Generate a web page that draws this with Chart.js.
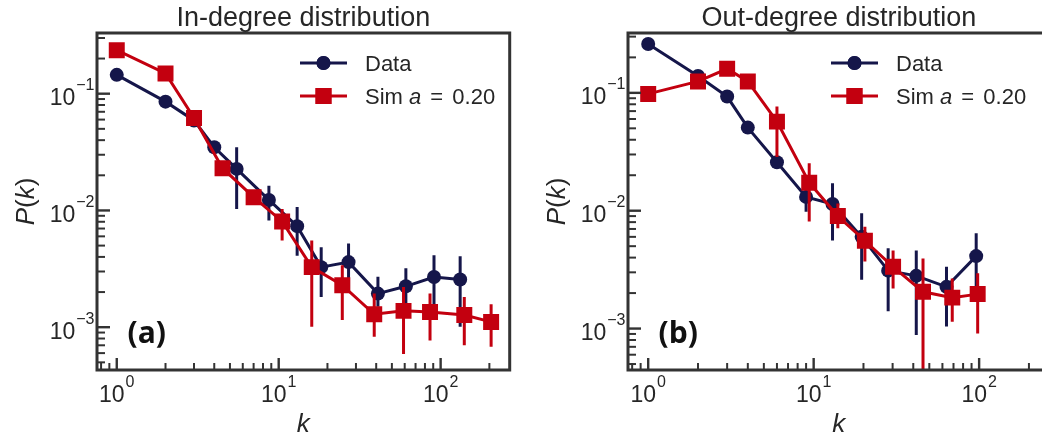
<!DOCTYPE html>
<html>
<head>
<meta charset="utf-8">
<script src="https://cdn.jsdelivr.net/npm/chart.js@4.4.0/dist/chart.umd.min.js"></script>
<style>
  html, body { margin: 0; padding: 0; background: #fff; overflow: hidden; }
  #wrap { position: relative; width: 1042px; height: 440px; overflow: hidden; }
  canvas { position: absolute; top: 0; }
  #inDeg { left: 0; }
  #outDeg { left: 521px; }
</style>
</head>
<body>
<div id="wrap">
  <canvas id="inDeg" width="521" height="440"></canvas>
  <canvas id="outDeg" width="540" height="440"></canvas>
</div>
<script>
// In-degree: data
const inKData = [1, 2, 3, 4, 5.5, 8.7, 13, 18.3, 27, 41, 61, 91, 132];
const inPData = [0.145, 0.0855, 0.059, 0.0348, 0.0227, 0.0123, 0.00734, 0.00327, 0.00361, 0.00194, 0.00224, 0.00269, 0.00256];
const inLoData = [null, null, null, null, 0.0103, 0.0082, 0.0041, 0.00181, 0.00207, 0.0015, 0.0015, 0.00131, 0.00101];
const inHiData = [null, null, null, null, 0.0348, 0.0163, 0.0107, 0.00485, 0.0052, 0.0027, 0.0032, 0.00413, 0.00405];

// In-degree: simulation
const inKSim = [1, 2, 3, 4.5, 7.0, 10.5, 16, 24.7, 38.9, 59, 86, 140, 205];
const inPSim = [0.236, 0.149, 0.062, 0.023, 0.013, 0.00805, 0.00327, 0.00229, 0.00129, 0.00138, 0.00135, 0.00127, 0.00111];
const inLoSim = [null, null, null, null, null, 0.00554, 0.00101, 0.00115, 0.00083, 0.00059, 0.00077, 0.0007, 0.00068];
const inHiSim = [null, null, null, null, null, 0.0103, 0.00554, 0.00339, 0.00194, 0.00221, 0.00194, 0.00181, 0.00157];

// Out-degree: data
const outKData = [1, 2, 3, 4, 6, 9, 13, 19.5, 28.2, 41.7, 63.5, 96];
const outPData = [0.26, 0.139, 0.093, 0.0507, 0.0258, 0.0131, 0.0114, 0.006, 0.0031, 0.0028, 0.00226, 0.00412];
const outLoData = [null, null, null, null, 0.0235, 0.0098, 0.0056, 0.0026, 0.0014, 0.00088, 0.00104, 0.00175];
const outHiData = [null, null, null, null, 0.028, 0.016, 0.0171, 0.0095, 0.0048, 0.0046, 0.00335, 0.00643];

// Out-degree: simulation
const outKSim = [1, 2, 3, 4, 6, 9.4, 14, 20.4, 30.2, 45.8, 68.8, 98];
const outPSim = [0.098, 0.125, 0.16, 0.125, 0.057, 0.0173, 0.009, 0.00556, 0.00334, 0.00205, 0.00183, 0.00196];
const outLoSim = [null, null, null, null, 0.0286, 0.0081, 0.0071, 0.0037, 0.00219, 0.0003, 0.00114, 0.00091];
const outHiSim = [null, null, null, null, 0.0766, 0.0253, 0.0115, 0.0073, 0.0046, 0.00394, 0.00266, 0.00294];

// tick labels (powers of ten)
const xTickExps = [0, 1, 2];
const yTickExps = [-3, -2, -1];

const NAVY = '#15164a';
const RED = '#c3000f';
const AXIS = '#333333';
const TEXT = '#262626';
const FONT = '"Liberation Sans", Arial, sans-serif';

Chart.defaults.font.family = FONT;

function pts(ks, ps) {
  return ks.map((k, i) => ({ x: k, y: ps[i] }));
}

function logTicks(min, max) {
  const out = [];
  for (let e = Math.floor(Math.log10(min)); e <= Math.ceil(Math.log10(max)); e++) {
    for (let m = 1; m <= 9; m++) {
      const v = m * Math.pow(10, e);
      if (v >= min && v <= max) out.push({ v, major: m === 1 });
    }
  }
  return out;
}

// draws "10" with a raised exponent
function drawPow(ctx, exp, x, baseY, align) {
  const sup = exp < 0 ? '\u2212' + (-exp) : String(exp);
  ctx.font = '23px ' + FONT;
  const w1 = ctx.measureText('10').width;
  ctx.font = '16px ' + FONT;
  const w2 = ctx.measureText(sup).width;
  const total = w1 + 1 + w2;
  const x0 = align === 'center' ? x - total / 2 : x - total;
  ctx.font = '23px ' + FONT;
  ctx.fillText('10', x0, baseY);
  ctx.font = '16px ' + FONT;
  ctx.fillText(sup, x0 + w1 + 1, baseY - 15);
}

// draws a row of text pieces with their own fonts
function drawRuns(ctx, runs, x, y) {
  let cx = x;
  runs.forEach(r => {
    ctx.font = r.font;
    ctx.fillText(r.t, cx, y);
    cx += ctx.measureText(r.t).width + (r.gap || 0);
  });
  return cx;
}
function runsWidth(ctx, runs) {
  let w = 0;
  runs.forEach(r => { ctx.font = r.font; w += ctx.measureText(r.t).width + (r.gap || 0); });
  return w;
}

// vertical error bars, drawn right before each dataset
const errorBars = {
  id: 'errorBars',
  beforeDatasetDraw(chart, args) {
    const ds = chart.data.datasets[args.index];
    if (!ds.errLo) return;
    const { ctx, chartArea: a, scales: { x, y } } = chart;
    ctx.save();
    ctx.beginPath();
    ctx.rect(a.left, a.top, a.right - a.left, a.bottom - a.top);
    ctx.clip();
    ctx.strokeStyle = ds.borderColor;
    ctx.lineWidth = 3;
    ds.data.forEach((p, i) => {
      const lo = ds.errLo[i], hi = ds.errHi[i];
      if (lo == null) return;
      const px = x.getPixelForValue(p.x);
      ctx.beginPath();
      ctx.moveTo(px, y.getPixelForValue(hi));
      ctx.lineTo(px, y.getPixelForValue(lo));
      ctx.stroke();
    });
    ctx.restore();
  }
};

// box frame, inward ticks, tick labels, titles, legend, panel letter
const decorations = {
  id: 'decorations',
  afterDraw(chart) {
    const { ctx, chartArea: a, scales: { x, y } } = chart;
    const o = chart.options.plugins.decorations;
    ctx.save();
    ctx.strokeStyle = AXIS;
    logTicks(x.min, x.max).forEach(t => {
      const px = x.getPixelForValue(t.v);
      ctx.lineWidth = t.major ? 2.4 : 2;
      ctx.beginPath();
      ctx.moveTo(px, a.bottom);
      ctx.lineTo(px, a.bottom - (t.major ? 12 : 7));
      ctx.stroke();
    });
    logTicks(y.min, y.max).forEach(t => {
      const py = y.getPixelForValue(t.v);
      ctx.lineWidth = t.major ? 2.4 : 2;
      ctx.beginPath();
      ctx.moveTo(a.left, py);
      ctx.lineTo(a.left + (t.major ? 13 : 8), py);
      ctx.stroke();
    });
    ctx.lineWidth = 3;
    ctx.strokeRect(a.left, a.top, a.right - a.left, a.bottom - a.top);

    ctx.fillStyle = TEXT;
    ctx.textAlign = 'left';
    ctx.textBaseline = 'alphabetic';
    xTickExps.forEach(e => drawPow(ctx, e, x.getPixelForValue(Math.pow(10, e)), 402, 'center'));
    yTickExps.forEach(e => drawPow(ctx, e, a.left - 2.5, y.getPixelForValue(Math.pow(10, e)) + 11.5, 'right'));

    const cx = (a.left + a.right) / 2;
    ctx.font = '27px ' + FONT;
    ctx.textAlign = 'center';
    ctx.fillText(o.title, cx, 26);
    ctx.font = 'italic 26px ' + FONT;
    ctx.fillText('k', cx, 432);
    ctx.textAlign = 'left';

    // y axis title P(k)
    const yRuns = [
      { t: 'P', font: 'italic 26px ' + FONT },
      { t: '(', font: '26px ' + FONT },
      { t: 'k', font: 'italic 26px ' + FONT },
      { t: ')', font: '26px ' + FONT }
    ];
    ctx.save();
    ctx.translate(a.left - 63, (a.top + a.bottom) / 2);
    ctx.rotate(-Math.PI / 2);
    drawRuns(ctx, yRuns, -runsWidth(ctx, yRuns) / 2, 0);
    ctx.restore();

    // panel letter
    ctx.font = 'bold 30px "Open Sans", ' + FONT;
    ctx.fillStyle = '#111';
    ctx.fillText(o.letter, a.left + 30.5, 343);

    // legend
    const lx = a.left + 203;
    const rows = [
      { ds: chart.data.datasets[0], y: 63, runs: [{ t: chart.data.datasets[0].label, font: '22px ' + FONT }] },
      { ds: chart.data.datasets[1], y: 96, runs: [
        { t: 'Sim ', font: '22px ' + FONT },
        { t: 'a', font: 'italic 22px ' + FONT, gap: 3 },
        { t: ' = ', font: '22px ' + FONT, gap: 3 },
        { t: '0.20', font: '22px ' + FONT }
      ] }
    ];
    rows.forEach(r => {
      ctx.strokeStyle = r.ds.borderColor;
      ctx.lineWidth = 3;
      ctx.beginPath();
      ctx.moveTo(lx, r.y);
      ctx.lineTo(lx + 47, r.y);
      ctx.stroke();
      ctx.fillStyle = r.ds.borderColor;
      Chart.helpers.drawPoint(ctx, { pointStyle: r.ds.pointStyle, radius: r.ds.pointRadius, rotation: 0, borderWidth: 0 }, lx + 23.5, r.y);
      ctx.fill();
      ctx.fillStyle = TEXT;
      drawRuns(ctx, r.runs, a.left + 268, r.y + 8);
    });
    ctx.restore();
  }
};

function makeChart(id, title, letter, kd, pd, lod, hid, ks, ps, los, his, yMin, yMax, padRight) {
  return new Chart(document.getElementById(id), {
    type: 'line',
    data: {
      datasets: [
        {
          label: 'Data',
          data: pts(kd, pd),
          errLo: lod, errHi: hid,
          borderColor: NAVY,
          backgroundColor: NAVY,
          borderWidth: 3,
          pointStyle: 'circle',
          pointRadius: 7,
          pointBorderWidth: 0,
          pointBackgroundColor: NAVY,
          order: 1
        },
        {
          label: 'Sim a = 0.20',
          data: pts(ks, ps),
          errLo: los, errHi: his,
          borderColor: RED,
          backgroundColor: RED,
          borderWidth: 3,
          pointStyle: 'rect',
          pointRadius: 11.3,
          pointBorderWidth: 0,
          pointBackgroundColor: RED,
          order: 0
        }
      ]
    },
    options: {
      responsive: false,
      animation: false,
      layout: { padding: { left: id === 'inDeg' ? 97 : 107, right: padRight, top: 33, bottom: 70 } },
      scales: {
        x: { type: 'logarithmic', min: 0.755, max: 267, display: false },
        y: { type: 'logarithmic', min: yMin, max: yMax, display: false }
      },
      plugins: {
        legend: { display: false },
        tooltip: { enabled: false },
        decorations: { title, letter }
      }
    },
    plugins: [errorBars, decorations]
  });
}

makeChart('inDeg', 'In-degree distribution', '(a)',
  inKData, inPData, inLoData, inHiData, inKSim, inPSim, inLoSim, inHiSim, 4.3e-4, 0.331, 1);
makeChart('outDeg', 'Out-degree distribution', '(b)',
  outKData, outPData, outLoData, outHiData, outKSim, outPSim, outLoSim, outHiSim, 4.45e-4, 0.322, 10);
</script>
</body>
</html>
